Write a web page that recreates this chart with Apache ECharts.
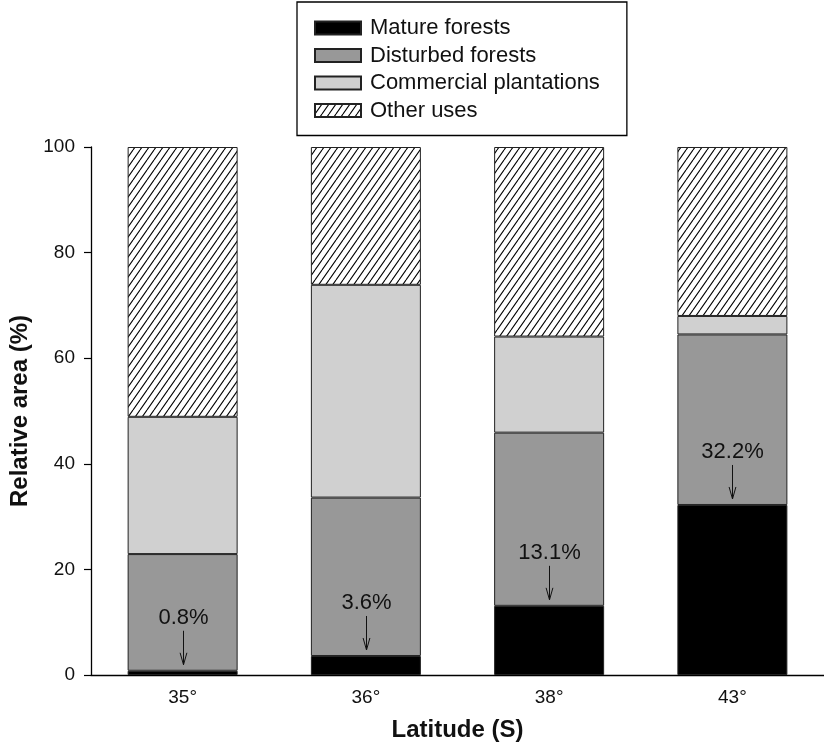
<!DOCTYPE html>
<html>
<head>
<meta charset="utf-8">
<script src="https://cdn.jsdelivr.net/npm/echarts@6/dist/echarts.min.js"></script>
<style>
html,body{margin:0;padding:0;background:#fff;}
#chart{width:824px;height:747px;}
</style>
</head>
<body>
<div id="chart"></div>
<script>
// ---- data ----
const categories = ['35°', '36°', '38°', '43°'];
const matureForests = [0.8, 3.6, 13.1, 32.2];
const disturbedForests = [22.1, 30.0, 32.8, 32.3];
const commercialPlantations = [26.0, 40.3, 18.2, 3.5];
const otherUses = [51.1, 26.1, 35.9, 32.0];
const seriesNames = ['Mature forests', 'Disturbed forests', 'Commercial plantations', 'Other uses'];
const yTicks = [0, 20, 40, 60, 80, 100];

// hatch pattern
function makeHatch() {
  const c = document.createElement('canvas');
  c.width = 7; c.height = 10;
  const ctx = c.getContext('2d');
  ctx.fillStyle = '#fff';
  ctx.fillRect(0, 0, 7, 10);
  ctx.strokeStyle = '#000';
  ctx.lineWidth = 1.1;
  ctx.beginPath();
  for (const dx of [-7, 0, 7]) {
    ctx.moveTo(dx, 10);
    ctx.lineTo(dx + 7, 0);
  }
  ctx.stroke();
  return c;
}
const hatch = makeHatch();

const FONT = 'Arial, "Liberation Sans", sans-serif';
const chart = echarts.init(document.getElementById('chart'), null, {renderer: 'canvas'});

function barSeries(name, data, color) {
  return {
    name: name,
    type: 'bar',
    stack: 'total',
    barWidth: 110,
    data: data,
    itemStyle: {color: color, borderColor: '#222', borderWidth: 1},
    emphasis: {disabled: true},
    animation: false
  };
}

const option = {
  animation: false,
  backgroundColor: '#fff',
  grid: {left: 91, top: 147, width: 739, height: 532, containLabel: false},
  legend: {
    data: seriesNames,
    orient: 'vertical',
    left: 297,
    top: 2,
    padding: [15, 27, 14, 17],
    itemWidth: 46,
    itemHeight: 13,
    itemGap: 5.5,
    borderColor: '#000',
    borderWidth: 1.3,
    icon: 'rect',
    selectedMode: false,
    textStyle: {fontFamily: FONT, fontSize: 22, color: '#111', lineHeight: 22, padding: [0, 0, 0, 4]}
  },
  xAxis: {
    type: 'category',
    data: categories,
    axisLine: {lineStyle: {color: '#000', width: 1.3}},
    axisTick: {alignWithLabel: true, length: 7, lineStyle: {color: '#000', width: 1.2}},
    axisLabel: {fontFamily: FONT, fontSize: 19, color: '#111', margin: 13},
    name: 'Latitude (S)',
    nameLocation: 'middle',
    nameGap: 43,
    nameTextStyle: {fontFamily: FONT, fontSize: 24, fontWeight: 'bold', color: '#111'}
  },
  yAxis: {
    type: 'value',
    min: 0,
    max: 100,
    interval: 20,
    splitLine: {show: false},
    axisLine: {show: true, lineStyle: {color: '#000', width: 1.3}},
    axisTick: {show: true, length: 7, lineStyle: {color: '#000', width: 1.2}},
    axisLabel: {fontFamily: FONT, fontSize: 19, color: '#111', margin: 16,
      formatter: v => yTicks.includes(v) ? String(v) : ''},
    name: 'Relative area (%)',
    nameLocation: 'middle',
    nameGap: 58,
    nameTextStyle: {fontFamily: FONT, fontSize: 24, fontWeight: 'bold', color: '#111'}
  },
  series: [
    barSeries(seriesNames[0], matureForests, '#000000'),
    barSeries(seriesNames[1], disturbedForests, '#989898'),
    barSeries(seriesNames[2], commercialPlantations, '#d0d0d0'),
    barSeries(seriesNames[3], otherUses, {image: hatch, repeat: 'repeat'}),
    {
      type: 'custom',
      name: 'annotations',
      silent: true,
      z: 10,
      data: matureForests.map((v, i) => [i, v]),
      renderItem: function (params, api) {
        const p = api.coord([api.value(0), api.value(1)]);
        const x = Math.round(p[0]) + 0.5, y = p[1];
        const txt = api.value(1).toFixed(1) + '%';
        return {
          type: 'group',
          children: [
            {type: 'line', shape: {x1: x, y1: y - 40, x2: x, y2: y - 6},
              style: {stroke: '#111', lineWidth: 1}},
            {type: 'polyline', shape: {points: [[x - 3.4, y - 18], [x, y - 6], [x + 3.4, y - 18]]},
              style: {stroke: '#111', lineWidth: 1, fill: null}},
            {type: 'text', style: {text: txt, x: x, y: y - 53, align: 'center', verticalAlign: 'middle',
              font: '22px ' + FONT, fill: '#111'}}
          ]
        };
      }
    }
  ]
};
chart.setOption(option);
</script>
</body>
</html>
